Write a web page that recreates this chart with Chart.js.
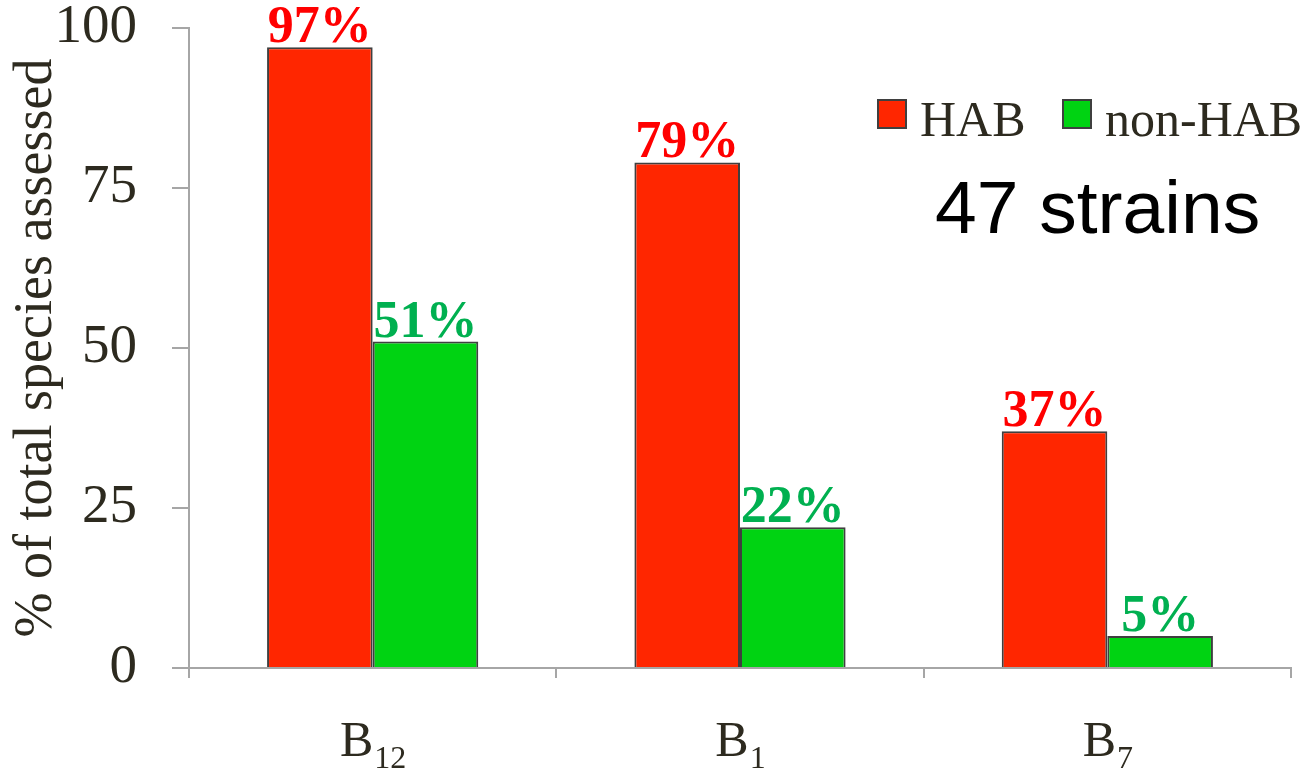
<!DOCTYPE html>
<html>
<head>
<meta charset="utf-8">
<script src="https://cdn.jsdelivr.net/npm/chart.js@4/dist/chart.umd.min.js"></script>
<style>
  html, body { margin: 0; padding: 0; background: #ffffff; }
  canvas { display: block; }
</style>
</head>
<body>
<canvas id="chart" width="1316" height="771"></canvas>
<script>
// Vitamin categories (first letter is the vitamin, the rest is drawn as a subscript)
const categories = ['B12', 'B1', 'B7'];
const seriesNames = ['HAB', 'non-HAB'];
const habValues = [97, 79, 37];
const nonHabValues = [51, 22, 5];
const yTickValues = [0, 25, 50, 75, 100];
const yTitle = '% of total species assessed';
const noteText = '47 strains';

const SERIF = '"Liberation Serif", "DejaVu Serif", serif';
const SANS = '"Liberation Sans", Arial, sans-serif';
const INK = '#2d2a1f';
const AXIS_GRAY = '#a6a6a6';
const BAR_EDGE = '#3f3f3f';
const FILLS = ['#ff2600', '#00d312'];
const VALUE_COLORS = ['#ff0000', '#00b050'];

// Percentage labels above every bar
const valueLabels = {
  id: 'valueLabels',
  afterDatasetsDraw(chart) {
    const ctx = chart.ctx;
    ctx.save();
    ctx.font = 'bold 52px ' + SERIF;
    ctx.textAlign = 'center';
    ctx.textBaseline = 'alphabetic';
    chart.data.datasets.forEach((ds, di) => {
      const meta = chart.getDatasetMeta(di);
      ctx.fillStyle = VALUE_COLORS[di];
      meta.data.forEach((bar, i) => {
        ctx.fillText(ds.data[i] + '%', bar.x, bar.y - 5);
      });
    });
    ctx.restore();
  }
};

// Category names with subscript numbers under the x axis
const subscriptLabels = {
  id: 'subscriptLabels',
  afterDraw(chart) {
    const ctx = chart.ctx;
    const xs = chart.scales.x;
    ctx.save();
    ctx.fillStyle = INK;
    ctx.textBaseline = 'alphabetic';
    ctx.textAlign = 'left';
    chart.data.labels.forEach((lab, i) => {
      const base = lab.charAt(0);
      const sub = lab.slice(1);
      ctx.font = '50px ' + SERIF;
      const wBase = ctx.measureText(base).width;
      ctx.font = '32px ' + SERIF;
      const wSub = ctx.measureText(sub).width;
      const cx = xs.getPixelForValue(i);
      const x0 = cx - (wBase + wSub) / 2;
      ctx.font = '50px ' + SERIF;
      ctx.fillText(base, x0, 756);
      ctx.font = '32px ' + SERIF;
      ctx.fillText(sub, x0 + wBase + 1, 768);
    });
    ctx.restore();
  }
};

// Legend boxes and the strain count note inside the plot
const legendAndNote = {
  id: 'legendAndNote',
  afterDraw(chart) {
    const ctx = chart.ctx;
    const boxes = [878, 1063];
    ctx.save();
    chart.data.datasets.forEach((ds, di) => {
      const bx = boxes[di];
      ctx.fillStyle = ds.backgroundColor;
      ctx.fillRect(bx, 100, 28, 28);
      ctx.strokeStyle = BAR_EDGE;
      ctx.lineWidth = 2;
      ctx.strokeRect(bx, 100, 28, 28);
      ctx.fillStyle = INK;
      ctx.font = '50px ' + SERIF;
      ctx.textAlign = 'left';
      ctx.textBaseline = 'alphabetic';
      ctx.fillText(ds.label, bx + 42, 136);
    });
    ctx.fillStyle = '#000000';
    ctx.font = '75px ' + SANS;
    ctx.fillText(noteText, 935, 233);
    ctx.restore();
  }
};

new Chart(document.getElementById('chart'), {
  type: 'bar',
  data: {
    labels: categories,
    datasets: [
      {
        label: seriesNames[0],
        data: habValues,
        backgroundColor: FILLS[0],
        borderColor: BAR_EDGE,
        borderWidth: 2,
        categoryPercentage: 0.575,
        barPercentage: 1.0
      },
      {
        label: seriesNames[1],
        data: nonHabValues,
        backgroundColor: FILLS[1],
        borderColor: BAR_EDGE,
        borderWidth: 2,
        categoryPercentage: 0.575,
        barPercentage: 1.0
      }
    ]
  },
  options: {
    responsive: false,
    animation: false,
    layout: { padding: { top: 28, right: 25, bottom: 0, left: 0 } },
    plugins: {
      legend: { display: false },
      tooltip: { enabled: false }
    },
    scales: {
      x: {
        offset: true,
        grid: {
          offset: true,
          drawOnChartArea: false,
          drawTicks: true,
          tickLength: 10,
          color: AXIS_GRAY,
          lineWidth: 2
        },
        border: { color: AXIS_GRAY, width: 2 },
        ticks: { display: false },
        afterFit(scale) { scale.height = 103; }
      },
      y: {
        min: 0,
        max: 100,
        afterBuildTicks(scale) {
          scale.ticks = yTickValues.map(v => ({ value: v }));
        },
        grid: {
          drawOnChartArea: false,
          drawTicks: true,
          tickLength: 17,
          color: AXIS_GRAY,
          lineWidth: 2
        },
        border: { color: AXIS_GRAY, width: 2 },
        ticks: {
          color: INK,
          padding: 35,
          font: { family: SERIF, size: 55, lineHeight: 1.0 }
        },
        title: {
          display: true,
          text: yTitle,
          color: INK,
          font: { family: SERIF, size: 54 },
          padding: { top: 4, bottom: 0 }
        },
        afterFit(scale) {
          scale.width = 189;
          scale.paddingTop = 0;
          scale.paddingBottom = 0;
        }
      }
    }
  },
  plugins: [valueLabels, subscriptLabels, legendAndNote]
});
</script>
</body>
</html>
